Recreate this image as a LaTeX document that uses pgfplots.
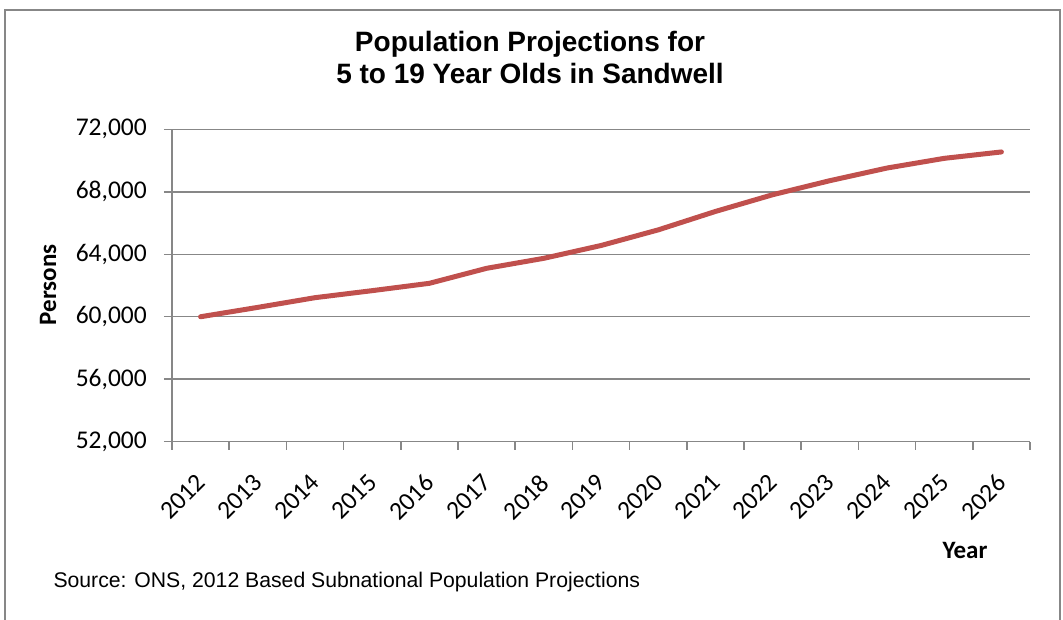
\documentclass[border=0pt]{standalone}
\usepackage{pgfplots}
\pgfplotsset{compat=1.18}
\usepackage{fontspec}
\setmainfont{Carlito}
\newfontfamily\arial{Liberation Sans}
\definecolor{linered}{HTML}{C0504D}
\definecolor{gridgray}{HTML}{878787}
\begin{document}
\begin{tikzpicture}
\useasboundingbox (0pt,0pt) rectangle (1063pt,619pt);
\draw[gridgray, line width=1.5pt] (5pt,-5pt) -- (5pt,609pt) -- (1060pt,609pt) -- (1060pt,-5pt);
\node[font=\arial\bfseries\fontsize{28}{32}\selectfont, align=center] at (530pt,562pt) {Population Projections for\\5 to 19 Year Olds in Sandwell};
\node[font=\arial\fontsize{21.2}{24}\selectfont, anchor=base west] at (50pt,32pt) {Source: ONS, 2012 Based Subnational Population Projections};
\node[font=\bfseries\fontsize{25}{30}\selectfont] at (965pt,69pt) {Year};
\node[font=\bfseries\fontsize{25}{30}\selectfont, rotate=90] at (48pt,334pt) {Persons};
\begin{axis}[
  at={(172pt,177.3pt)}, anchor=south west,
  scale only axis, width=858pt, height=312.4pt,
  xmin=-0.5, xmax=14.5, ymin=52000, ymax=72000,
  axis x line*=bottom, axis y line*=left,
  axis line style={gridgray, line width=1.5pt},
  xtick={0,...,14},
  xticklabels={2012,2013,2014,2015,2016,2017,2018,2019,2020,2021,2022,2023,2024,2025,2026},
  minor xtick={-0.5,0.5,...,14.5},
  major x tick style={draw=none},
  minor x tick style={gridgray, line width=1.5pt},
  ytick={52000,56000,...,72000},
  scaled y ticks=false,
  ymajorgrids, major grid style={gridgray, line width=1.5pt},
  y tick style={gridgray, line width=1.5pt},
  tick align=outside, major tick length=8pt, minor tick length=8pt,
  ticklabel style={font=\fontsize{25.5}{30}\selectfont},
  xticklabel style={rotate=45, anchor=north east, inner sep=2pt, yshift=-10pt, xshift=-18pt},
  yticklabel style={inner sep=3pt, xshift=-14pt},
  /pgf/number format/.cd, assume math mode=true, 1000 sep={,},
]
\addplot[linered, line width=5pt, line join=round, line cap=round] coordinates {
(0,60000) (1,60600) (2,61220) (3,61670) (4,62140) (5,63100) (6,63740) (7,64560)
(8,65560) (9,66740) (10,67810) (11,68710) (12,69520) (13,70140) (14,70550)
};
\end{axis}
\end{tikzpicture}
\end{document}
